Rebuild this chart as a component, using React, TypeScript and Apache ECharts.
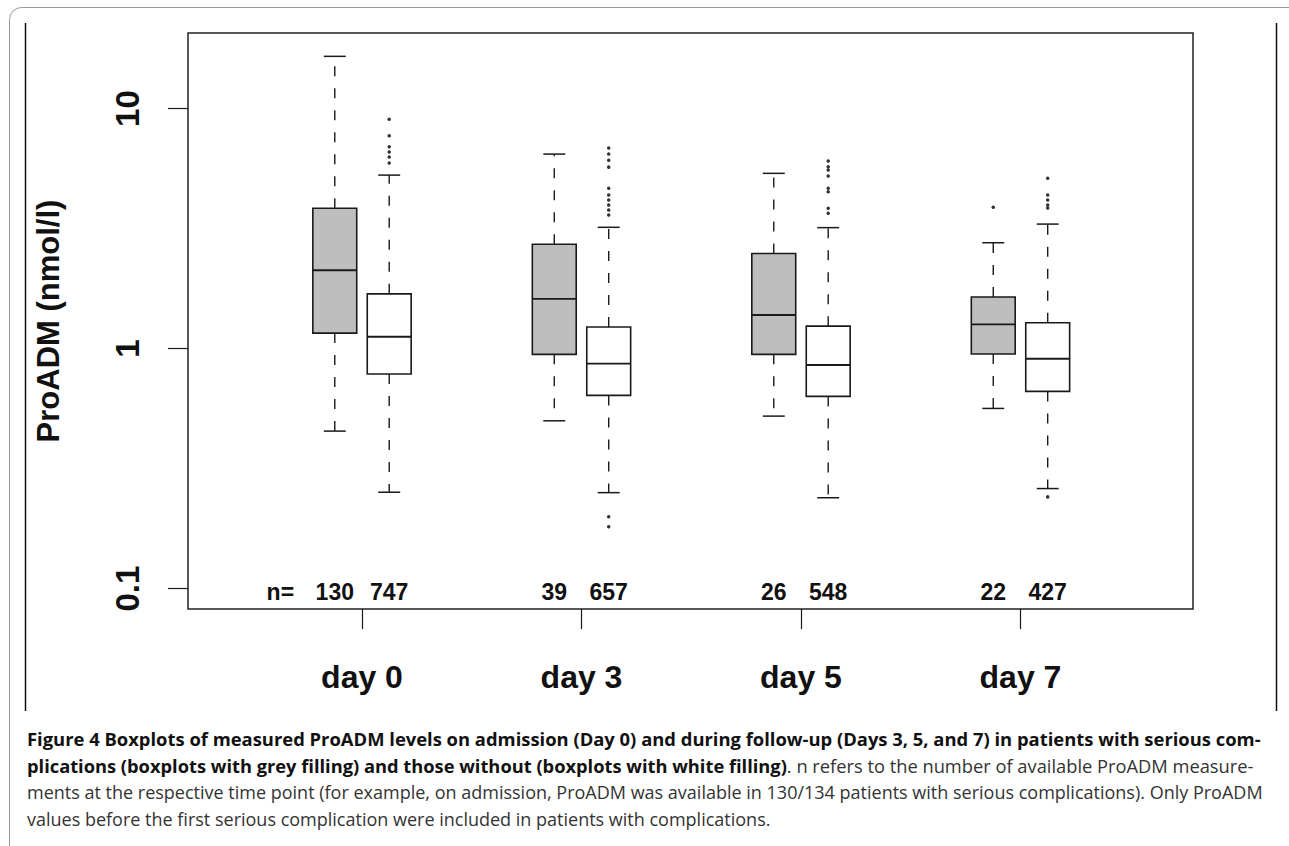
import React, { useEffect, useRef } from 'react';
import * as echarts from 'echarts';

// ---- data ----
const days = ['day 0', 'day 3', 'day 5', 'day 7'];
// [lower whisker, Q1, median, Q3, upper whisker] in nmol/l
const greyBoxes = [
  [0.453, 1.16, 2.12, 3.84, 16.5],
  [0.5, 0.946, 1.61, 2.72, 6.46],
  [0.523, 0.946, 1.38, 2.49, 5.37],
  [0.563, 0.949, 1.26, 1.64, 2.76],
];
const whiteBoxes = [
  [0.252, 0.783, 1.12, 1.69, 5.28],
  [0.251, 0.638, 0.865, 1.23, 3.2],
  [0.239, 0.632, 0.854, 1.24, 3.19],
  [0.261, 0.663, 0.907, 1.28, 3.3],
];
const greyOutliers = [[], [], [], [3.88]];
const whiteOutliers = [
  [9.02, 7.7, 6.93, 6.59, 6.28, 5.93],
  [6.85, 6.46, 6.09, 5.7, 4.65, 4.36, 4.16, 3.96, 3.78, 3.6, 0.199, 0.181],
  [6.04, 5.72, 5.54, 5.23, 4.65, 4.5, 3.84, 3.66],
  [5.12, 4.36, 4.16, 3.96, 3.85, 0.241],
];
const greyN = [130, 39, 26, 22];
const whiteN = [747, 657, 548, 427];
const yTickValues = [0.1, 1, 10];
const yTitle = 'ProADM (nmol/l)';
const captionLines = [
  'Figure 4 Boxplots of measured ProADM levels on admission (Day 0) and during follow-up (Days 3, 5, and 7) in patients with serious com-',
  'plications (boxplots with grey filling) and those without (boxplots with white filling)',
  '. n refers to the number of available ProADM measure-',
  'ments at the respective time point (for example, on admission, ProADM was available in 130/134 patients with serious complications). Only ProADM',
  'values before the first serious complication were included in patients with complications.',
];

// ---- layout (not data) ----
const OFFSET = 0.124;
const BOX_HALF = 0.1;
const CAP_HALF = 0.05;
const RFONT = '"Liberation Sans", Arial, sans-serif';
const CFONT = '"Open Sans", "Noto Sans", sans-serif';

export default function App() {
  const ref = useRef<HTMLDivElement>(null);
  useEffect(() => {
    const chart = echarts.init(ref.current!, null, { renderer: 'svg' });

    const boxData: number[][] = [];
    const outData: number[][] = [];
    const countData: number[][] = [];
    const countText: string[] = [];
    countData.push([-OFFSET - 2 * OFFSET, 0.1]);
    countText.push('n=');
    days.forEach((_, i) => {
      boxData.push([i - OFFSET, ...greyBoxes[i], 0]);
      boxData.push([i + OFFSET, ...whiteBoxes[i], 1]);
      greyOutliers[i].forEach((v) => outData.push([i - OFFSET, v]));
      whiteOutliers[i].forEach((v) => outData.push([i + OFFSET, v]));
      countData.push([i - OFFSET, 0.1]);
      countText.push(String(greyN[i]));
      countData.push([i + OFFSET, 0.1]);
      countText.push(String(whiteN[i]));
    });

    const stroke = '#1a1a1a';
    const option: any = {
      animation: false,
      textStyle: { fontFamily: RFONT },
      grid: {
        left: 188,
        top: 33,
        width: 1005,
        height: 576,
        show: true,
        borderColor: '#222',
        borderWidth: 1.5,
        backgroundColor: 'transparent',
        containLabel: false,
      },
      xAxis: {
        type: 'value',
        min: -0.7927,
        max: 3.786,
        axisLine: { show: false, onZero: false },
        splitLine: { show: false },
        axisTick: {
          show: true,
          length: 20,
          customValues: [0, 1, 2, 3],
          lineStyle: { color: stroke, width: 1.2 },
        },
        axisLabel: {
          show: true,
          customValues: [0, 1, 2, 3],
          formatter: (v: number) => days[Math.round(v)],
          fontSize: 32,
          fontWeight: 'bold',
          fontFamily: RFONT,
          color: '#111',
          margin: 52,
        },
      },
      yAxis: {
        type: 'log',
        logBase: 10,
        min: 0.0822,
        max: 20.64,
        axisLine: { show: false, onZero: false },
        splitLine: { show: false },
        axisTick: {
          show: true,
          length: 20,
          customValues: yTickValues,
          lineStyle: { color: stroke, width: 1.2 },
        },
        axisLabel: {
          show: true,
          customValues: yTickValues,
          formatter: (v: number) => String(v),
          rotate: 90,
          fontSize: 33,
          fontWeight: 'bold',
          fontFamily: RFONT,
          color: '#111',
          margin: 44,
        },
        name: yTitle,
        nameLocation: 'middle',
        nameRotate: 90,
        nameGap: 124,
        nameTextStyle: { fontSize: 31, fontWeight: 'bold', fontFamily: RFONT, color: '#111' },
      },
      series: [
        {
          type: 'custom',
          name: 'boxes',
          data: boxData,
          encode: { x: 0, y: [1, 2, 3, 4, 5] },
          renderItem: (params: any, api: any) => {
            const x = api.value(0);
            const lo = api.value(1), q1 = api.value(2), md = api.value(3), q3 = api.value(4), hi = api.value(5);
            const fill = api.value(6) === 0 ? '#bebebe' : '#ffffff';
            const c = api.coord([x, md]);
            const left = api.coord([x - BOX_HALF, md])[0];
            const right = api.coord([x + BOX_HALF, md])[0];
            const capL = api.coord([x - CAP_HALF, md])[0];
            const capR = api.coord([x + CAP_HALF, md])[0];
            const yLo = api.coord([x, lo])[1];
            const yQ1 = api.coord([x, q1])[1];
            const yQ3 = api.coord([x, q3])[1];
            const yHi = api.coord([x, hi])[1];
            const solid = { stroke, lineWidth: 1.5, fill: 'none' };
            const dashed = { stroke, lineWidth: 1.4, lineDash: [10, 12], fill: 'none' };
            return {
              type: 'group',
              children: [
                { type: 'line', shape: { x1: c[0], y1: yQ3, x2: c[0], y2: yHi }, style: dashed },
                { type: 'line', shape: { x1: c[0], y1: yQ1, x2: c[0], y2: yLo }, style: dashed },
                { type: 'line', shape: { x1: capL, y1: yHi, x2: capR, y2: yHi }, style: solid },
                { type: 'line', shape: { x1: capL, y1: yLo, x2: capR, y2: yLo }, style: solid },
                {
                  type: 'rect',
                  shape: { x: left, y: yQ3, width: right - left, height: yQ1 - yQ3 },
                  style: { fill, stroke, lineWidth: 1.6 },
                },
                { type: 'line', shape: { x1: left, y1: c[1], x2: right, y2: c[1] }, style: { stroke, lineWidth: 1.8 } },
              ],
            };
          },
          z: 2,
        },
        {
          type: 'scatter',
          name: 'outliers',
          data: outData,
          symbol: 'circle',
          symbolSize: 3.5,
          itemStyle: { color: '#000' },
          z: 3,
        },
        {
          type: 'custom',
          name: 'counts',
          data: countData,
          encode: { x: 0, y: 1 },
          renderItem: (params: any, api: any) => {
            const p = api.coord([api.value(0), api.value(1)]);
            return {
              type: 'text',
              x: p[0],
              y: p[1] + 3,
              style: {
                text: countText[params.dataIndex],
                fill: '#111',
                fontSize: 23,
                fontWeight: 'bold',
                fontFamily: RFONT,
                align: 'center',
                verticalAlign: 'middle',
              },
            };
          },
          z: 3,
        },
      ],
      graphic: [
        {
          type: 'rect',
          shape: { x: 9.5, y: 7.5, width: 1292, height: 900, r: 12 },
          style: { fill: 'none', stroke: '#9a9a9a', lineWidth: 1 },
          silent: true,
        },
        {
          type: 'line',
          shape: { x1: 25.5, y1: 23, x2: 25.5, y2: 711 },
          style: { stroke: '#111', lineWidth: 1.5 },
          silent: true,
        },
        {
          type: 'line',
          shape: { x1: 1276.5, y1: 23, x2: 1276.5, y2: 711 },
          style: { stroke: '#111', lineWidth: 1.5 },
          silent: true,
        },
        {
          type: 'text',
          left: 27,
          top: 729,
          style: { text: captionLines[0], fill: '#111', font: `bold 18.4px ${CFONT}` },
        },
        {
          type: 'text',
          left: 27,
          top: 756,
          style: {
            text: `{b|${captionLines[1]}}{r|${captionLines[2]}}`,
            rich: {
              b: { fill: '#111', fontSize: 18.3, fontWeight: 'bold', fontFamily: CFONT },
              r: { fill: '#333', fontSize: 18.3, fontFamily: CFONT },
            },
          },
        },
        {
          type: 'text',
          left: 27,
          top: 783,
          style: { text: captionLines[3], fill: '#333', font: `18px ${CFONT}` },
        },
        {
          type: 'text',
          left: 27,
          top: 810,
          style: { text: captionLines[4], fill: '#333', font: `18px ${CFONT}` },
        },
      ],
    };
    chart.setOption(option);
    return () => chart.dispose();
  }, []);
  return (
    <div
      ref={ref}
      style={{ position: 'fixed', left: 0, top: 0, width: 1289, height: 846, background: '#fff' }}
    />
  );
}
